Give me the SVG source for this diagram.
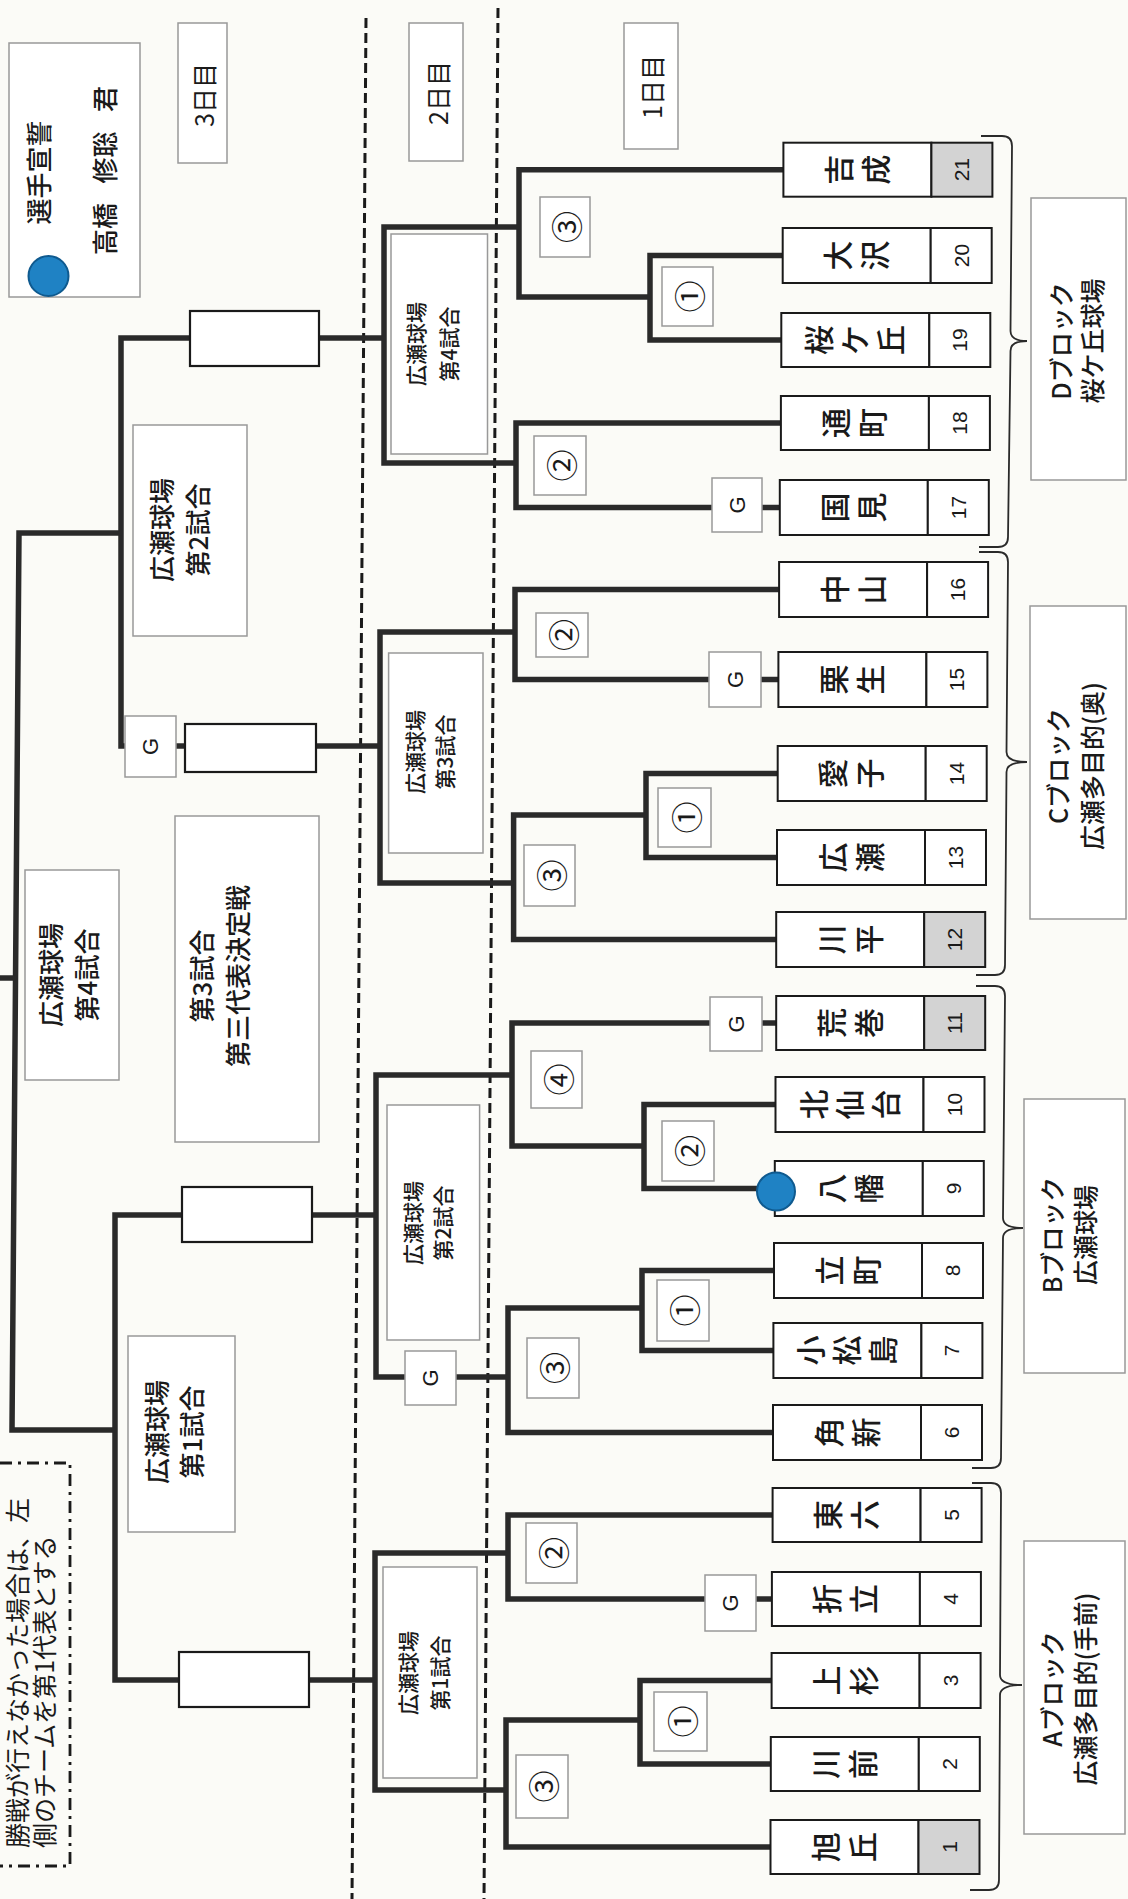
<svg xmlns="http://www.w3.org/2000/svg" width="1128" height="1899" viewBox="0 0 1128 1899">
<style>
.bg{fill:#fbfbf7}
.tb{fill:#fff;stroke:#1a1a1a;stroke-width:2}
.sh{fill:#d3d3d3}
.gb{fill:#fff;stroke:#999;stroke-width:1.5}
.eb{fill:#fff;stroke:#1a1a1a;stroke-width:2.2}
.ln{fill:none;stroke:#2a2a2a;stroke-width:5.5;stroke-linejoin:miter}
.dash{stroke:#1a1a1a;stroke-width:3;stroke-dasharray:10 5}
.brace{fill:none;stroke:#2a2a2a;stroke-width:1.8}
.nm{font-family:"Noto Sans CJK JP","Noto Sans CJK SC",sans-serif;font-size:30px;font-weight:500;text-anchor:middle;dominant-baseline:central;fill:#1a1a1a}
.num{font-family:"Liberation Sans",Arial,sans-serif;font-size:21px;text-anchor:middle;dominant-baseline:central;fill:#1a1a1a}
.cn{font-family:"Noto Sans CJK JP","Noto Sans CJK SC",sans-serif;font-size:32px;text-anchor:middle;dominant-baseline:central;fill:#1a1a1a}
.g{font-family:"Liberation Sans",Arial,sans-serif;font-size:22px;text-anchor:middle;dominant-baseline:central;fill:#1a1a1a}
.l2{font-family:"Noto Sans CJK JP","Noto Sans CJK SC",sans-serif;font-size:21px;font-weight:500;text-anchor:middle;dominant-baseline:central;fill:#1a1a1a}
.l3{font-family:"Noto Sans CJK JP","Noto Sans CJK SC",sans-serif;font-size:26px;font-weight:500;text-anchor:middle;dominant-baseline:central;fill:#1a1a1a}
.lb{font-family:"Noto Sans CJK JP","Noto Sans CJK SC",sans-serif;font-size:25px;font-weight:500;text-anchor:middle;dominant-baseline:central;fill:#1a1a1a}
.dy{font-family:"Noto Sans CJK JP","Noto Sans CJK SC",sans-serif;font-size:25px;text-anchor:middle;dominant-baseline:central;fill:#1a1a1a}
.nt{font-family:"Noto Sans CJK JP","Noto Sans CJK SC",sans-serif;font-size:25px;text-anchor:start;dominant-baseline:central;fill:#1a1a1a}
.blue{fill:#1f82c4;stroke:#0f5a8f;stroke-width:2}
</style>
<rect class="bg" x="0" y="0" width="1128" height="1899"/>

<g id="day-dividers">
<line class="dash" x1="366" y1="18" x2="352" y2="1899"/>
<line class="dash" x1="498" y1="8" x2="484" y2="1899"/>
</g>

<g id="connectors">
<path class="ln" d="M783.4,169.7 H519 V297 H650"/>
<path class="ln" d="M782.7,255.5 H650 V340 H781.3"/>
<path class="ln" d="M780.9,423 H516 V507.5 H712"/>
<path class="ln" d="M762,507.5 H779.8"/>
<path class="ln" d="M779.1,589.5 H515 V679.5 H709"/>
<path class="ln" d="M761,679.5 H778.4"/>
<path class="ln" d="M777.7,773.5 H646 V857.5 H777"/>
<path class="ln" d="M646,815 H513.6 V939.5 H776.2"/>
<path class="ln" d="M710,1023 H512 V1146 H644"/>
<path class="ln" d="M762,1023 H776.2"/>
<path class="ln" d="M775.5,1104.5 H644 V1188.5 H776"/>
<path class="ln" d="M774,1270.5 H642 V1350.5 H773.4"/>
<path class="ln" d="M642,1308 H508 V1432.5 H773"/>
<path class="ln" d="M772.6,1515 H508 V1599 H705"/>
<path class="ln" d="M756,1599 H771.9"/>
<path class="ln" d="M771.6,1680.5 H640 V1764 H770.8"/>
<path class="ln" d="M640,1720 H506 V1847 H770.5"/>
<path class="ln" d="M519,227 H384 V463 H516"/>
<path class="ln" d="M515,632 H380 V883 H513.6"/>
<path class="ln" d="M512,1075 H376 V1377 H405"/>
<path class="ln" d="M456,1377 H508"/>
<path class="ln" d="M508,1553 H375 V1790 H506"/>
<path class="ln" d="M384,338 H319"/>
<path class="ln" d="M380,746 H316"/>
<path class="ln" d="M376,1215 H312"/>
<path class="ln" d="M375,1680 H309"/>
<path class="ln" d="M190,338 H121 V746 H125"/>
<path class="ln" d="M175.5,746 H185"/>
<path class="ln" d="M182,1215 H115 V1680 H179"/>
<path class="ln" d="M121,533 H19 L12,1430 H115"/>
<path class="ln" d="M15.5,978 H0"/>
</g>

<g id="braces">
<path class="brace" d="M981,136 L1002,136 Q1012,136 1012,146 L1010.5,331 Q1010.5,341 1027,341 Q1010.5,341 1010.5,351 L1008,537 Q1008,547 998,547 L979,547"/>
<path class="brace" d="M979,552 L998,552 Q1008,552 1008,562 L1006.5,752 Q1006.5,762 1027,762 Q1006.5,762 1006.5,772 L1005,965 Q1005,975 995,975 L976,975"/>
<path class="brace" d="M976,986 L995,986 Q1005,986 1005,996 L1003,1218 Q1003,1228 1023,1228 Q1003,1228 1003,1238 L1001,1458 Q1001,1468 991,1468 L972,1468"/>
<path class="brace" d="M972,1483 L991,1483 Q1001,1483 1001,1493 L1000,1675 Q1000,1685 1022,1685 Q1000,1685 1000,1695 L999,1880 Q999,1890 989,1890 L970,1890"/>
</g>

<g id="legend">
<rect class="gb" x="9" y="43" width="131" height="254"/>
<circle class="blue" cx="48.5" cy="276" r="20"/>
<text class="l3" transform="translate(37,172.5) rotate(-90)">選手宣誓</text>
<text class="l3" transform="translate(103.5,229) rotate(-90)">高橋</text>
<text class="l3" transform="translate(103.5,157.5) rotate(-90)">修聡</text>
<text class="l3" transform="translate(103.5,99) rotate(-90)">君</text>
</g>

<g id="day3-label"><rect class="gb" x="178" y="23" width="49" height="140"/><text class="dy" transform="translate(203,95) rotate(-90)">3日目</text></g>
<g id="day2-label"><rect class="gb" x="409" y="23" width="54" height="138"/><text class="dy" transform="translate(437,93) rotate(-90)">2日目</text></g>
<g id="day1-label"><rect class="gb" x="624" y="23" width="54" height="126"/><text class="dy" transform="translate(651,87) rotate(-90)">1日目</text></g>

<g id="note">
<path d="M0,1463 H70 V1866 H0" fill="none" stroke="#1a1a1a" stroke-width="2.8" stroke-dasharray="12 6 3 6"/>
<text class="nt" transform="translate(15.5,1848) rotate(-90)">勝戦が行えなかった場合は、左</text>
<text class="nt" transform="translate(43,1848) rotate(-90)">側のチームを第1代表とする</text>
</g>

<g id="d3-match2"><rect class="gb" x="133" y="425" width="114" height="211"/><text class="l3" transform="translate(160,530) rotate(-90)">広瀬球場</text><text class="l3" transform="translate(196,530) rotate(-90)">第2試合</text></g>
<g id="d3-match4"><rect class="gb" x="25" y="870" width="94" height="210"/><text class="l3" transform="translate(49.5,975) rotate(-90)">広瀬球場</text><text class="l3" transform="translate(85.5,975) rotate(-90)">第4試合</text></g>
<g id="d3-match3"><rect class="gb" x="175" y="816" width="144" height="326"/><text class="l3" transform="translate(200.5,976) rotate(-90)">第3試合</text><text class="l3" transform="translate(236.5,976) rotate(-90)">第三代表決定戦</text></g>
<g id="d3-match1"><rect class="gb" x="128" y="1336" width="107" height="196"/><text class="l3" transform="translate(155,1432) rotate(-90)">広瀬球場</text><text class="l3" transform="translate(190.6,1432) rotate(-90)">第1試合</text></g>

<g id="winner-1"><rect class="eb" x="190" y="311" width="129" height="55"/></g>
<g id="winner-2"><rect class="eb" x="185" y="724" width="131" height="48"/></g>
<g id="winner-3"><rect class="eb" x="182" y="1187" width="130" height="55"/></g>
<g id="winner-4"><rect class="eb" x="179" y="1652" width="130" height="55"/></g>
<g id="d3-G"><rect class="gb" x="125" y="716" width="51" height="61"/><text class="g" transform="translate(150.5,746.5) rotate(-90)">G</text></g>

<g id="d2-match4"><rect class="gb" x="391" y="234" width="96.5" height="220"/><text class="l2" transform="translate(415,344) rotate(-90)">広瀬球場</text><text class="l2" transform="translate(447.5,344) rotate(-90)">第4試合</text></g>
<g id="d2-match3"><rect class="gb" x="388.6" y="653" width="94.4" height="200"/><text class="l2" transform="translate(413.6,752) rotate(-90)">広瀬球場</text><text class="l2" transform="translate(444,752) rotate(-90)">第3試合</text></g>
<g id="d2-match2"><rect class="gb" x="387" y="1105" width="92.6" height="235"/><text class="l2" transform="translate(412,1223) rotate(-90)">広瀬球場</text><text class="l2" transform="translate(442,1223) rotate(-90)">第2試合</text></g>
<g id="d2-match1"><rect class="gb" x="383" y="1567" width="94" height="211"/><text class="l2" transform="translate(407,1673) rotate(-90)">広瀬球場</text><text class="l2" transform="translate(439,1673) rotate(-90)">第1試合</text></g>
<g id="d2-G"><rect class="gb" x="405" y="1351" width="51" height="54"/><text class="g" transform="translate(430.5,1378) rotate(-90)">G</text></g>

<g id="D-m3"><rect class="gb" x="540" y="197" width="50" height="60"/><text class="cn" transform="translate(565,227) rotate(-90)">③</text></g>
<g id="D-m1"><rect class="gb" x="662" y="267" width="51" height="59"/><text class="cn" transform="translate(687.5,296.5) rotate(-90)">①</text></g>
<g id="D-m2"><rect class="gb" x="534" y="436" width="52" height="59"/><text class="cn" transform="translate(560,465.5) rotate(-90)">②</text></g>
<g id="D-G"><rect class="gb" x="712" y="478" width="50" height="54"/><text class="g" transform="translate(737,505) rotate(-90)">G</text></g>
<g id="C-m2"><rect class="gb" x="536" y="613" width="52" height="44"/><text class="cn" transform="translate(562,635) rotate(-90)">②</text></g>
<g id="C-G"><rect class="gb" x="709" y="652" width="52" height="55"/><text class="g" transform="translate(735,679.5) rotate(-90)">G</text></g>
<g id="C-m1"><rect class="gb" x="658" y="788" width="53" height="59"/><text class="cn" transform="translate(684.5,817.5) rotate(-90)">①</text></g>
<g id="C-m3"><rect class="gb" x="524" y="845" width="51" height="61"/><text class="cn" transform="translate(549.5,875.5) rotate(-90)">③</text></g>
<g id="B-G"><rect class="gb" x="710" y="997" width="52" height="54"/><text class="g" transform="translate(736,1024) rotate(-90)">G</text></g>
<g id="B-m4"><rect class="gb" x="531" y="1051" width="51" height="57"/><text class="cn" transform="translate(556.5,1079.5) rotate(-90)">④</text></g>
<g id="B-m2"><rect class="gb" x="662" y="1121" width="52" height="60"/><text class="cn" transform="translate(688,1151) rotate(-90)">②</text></g>
<g id="B-m1"><rect class="gb" x="657" y="1280" width="52" height="61"/><text class="cn" transform="translate(683,1310.5) rotate(-90)">①</text></g>
<g id="B-m3"><rect class="gb" x="527" y="1338" width="52" height="60"/><text class="cn" transform="translate(553,1368) rotate(-90)">③</text></g>
<g id="A-m2"><rect class="gb" x="526" y="1523" width="51" height="60"/><text class="cn" transform="translate(551.5,1553) rotate(-90)">②</text></g>
<g id="A-G"><rect class="gb" x="705" y="1575" width="51" height="56"/><text class="g" transform="translate(730.5,1603) rotate(-90)">G</text></g>
<g id="A-m1"><rect class="gb" x="654" y="1692" width="53" height="59"/><text class="cn" transform="translate(680.5,1721.5) rotate(-90)">①</text></g>
<g id="A-m3"><rect class="gb" x="516" y="1755" width="52" height="63"/><text class="cn" transform="translate(542,1786.5) rotate(-90)">③</text></g>

<g id="team-21"><rect class="tb" x="783.4" y="142.7" width="148" height="54"/><rect class="tb sh" x="931.4" y="142.7" width="61" height="54"/><text class="nm" transform="translate(836.9,169.7) rotate(-90)">吉</text><text class="nm" transform="translate(873.9,169.7) rotate(-90)">成</text><text class="num" transform="translate(961.9,169.7) rotate(-90)">21</text></g>
<g id="team-20"><rect class="tb" x="782.7" y="228" width="148" height="55"/><rect class="tb" x="930.7" y="228" width="61" height="55"/><text class="nm" transform="translate(836.2,255.5) rotate(-90)">大</text><text class="nm" transform="translate(873.2,255.5) rotate(-90)">沢</text><text class="num" transform="translate(961.2,255.5) rotate(-90)">20</text></g>
<g id="team-19"><rect class="tb" x="781.3" y="313" width="148" height="54"/><rect class="tb" x="929.3" y="313" width="61" height="54"/><text class="nm" transform="translate(817.3,340) rotate(-90)">桜</text><text class="nm" transform="translate(853.3,340) rotate(-90)">ケ</text><text class="nm" transform="translate(889.3,340) rotate(-90)">丘</text><text class="num" transform="translate(959.8,340) rotate(-90)">19</text></g>
<g id="team-18"><rect class="tb" x="780.9" y="396" width="148" height="54"/><rect class="tb" x="928.9" y="396" width="61" height="54"/><text class="nm" transform="translate(834.4,423) rotate(-90)">通</text><text class="nm" transform="translate(871.4,423) rotate(-90)">町</text><text class="num" transform="translate(959.4,423) rotate(-90)">18</text></g>
<g id="team-17"><rect class="tb" x="779.8" y="480" width="148" height="55"/><rect class="tb" x="927.8" y="480" width="61" height="55"/><text class="nm" transform="translate(833.3,507.5) rotate(-90)">国</text><text class="nm" transform="translate(870.3,507.5) rotate(-90)">見</text><text class="num" transform="translate(958.3,507.5) rotate(-90)">17</text></g>
<g id="team-16"><rect class="tb" x="779.1" y="562" width="148" height="55"/><rect class="tb" x="927.1" y="562" width="61" height="55"/><text class="nm" transform="translate(832.6,589.5) rotate(-90)">中</text><text class="nm" transform="translate(869.6,589.5) rotate(-90)">山</text><text class="num" transform="translate(957.6,589.5) rotate(-90)">16</text></g>
<g id="team-15"><rect class="tb" x="778.4" y="652" width="148" height="55"/><rect class="tb" x="926.4" y="652" width="61" height="55"/><text class="nm" transform="translate(831.9,679.5) rotate(-90)">栗</text><text class="nm" transform="translate(868.9,679.5) rotate(-90)">生</text><text class="num" transform="translate(956.9,679.5) rotate(-90)">15</text></g>
<g id="team-14"><rect class="tb" x="777.7" y="746" width="148" height="55"/><rect class="tb" x="925.7" y="746" width="61" height="55"/><text class="nm" transform="translate(831.2,773.5) rotate(-90)">愛</text><text class="nm" transform="translate(868.2,773.5) rotate(-90)">子</text><text class="num" transform="translate(956.2,773.5) rotate(-90)">14</text></g>
<g id="team-13"><rect class="tb" x="777" y="830" width="148" height="55"/><rect class="tb" x="925" y="830" width="61" height="55"/><text class="nm" transform="translate(830.5,857.5) rotate(-90)">広</text><text class="nm" transform="translate(867.5,857.5) rotate(-90)">瀬</text><text class="num" transform="translate(955.5,857.5) rotate(-90)">13</text></g>
<g id="team-12"><rect class="tb" x="776.2" y="912" width="148" height="55"/><rect class="tb sh" x="924.2" y="912" width="61" height="55"/><text class="nm" transform="translate(829.7,939.5) rotate(-90)">川</text><text class="nm" transform="translate(866.7,939.5) rotate(-90)">平</text><text class="num" transform="translate(954.7,939.5) rotate(-90)">12</text></g>
<g id="team-11"><rect class="tb" x="776.2" y="996" width="148" height="54"/><rect class="tb sh" x="924.2" y="996" width="61" height="54"/><text class="nm" transform="translate(829.7,1023) rotate(-90)">荒</text><text class="nm" transform="translate(866.7,1023) rotate(-90)">巻</text><text class="num" transform="translate(954.7,1023) rotate(-90)">11</text></g>
<g id="team-10"><rect class="tb" x="775.5" y="1077" width="148" height="55"/><rect class="tb" x="923.5" y="1077" width="61" height="55"/><text class="nm" transform="translate(811.5,1104.5) rotate(-90)">北</text><text class="nm" transform="translate(847.5,1104.5) rotate(-90)">仙</text><text class="nm" transform="translate(883.5,1104.5) rotate(-90)">台</text><text class="num" transform="translate(954,1104.5) rotate(-90)">10</text></g>
<g id="team-9"><rect class="tb" x="774.8" y="1161" width="148" height="55"/><rect class="tb" x="922.8" y="1161" width="61" height="55"/><text class="nm" transform="translate(830.3,1188.5) rotate(-90)">八</text><text class="nm" transform="translate(867.3,1188.5) rotate(-90)">幡</text><text class="num" transform="translate(953.3,1188.5) rotate(-90)">9</text><circle class="blue" cx="776" cy="1191.5" r="19"/></g>
<g id="team-8"><rect class="tb" x="774" y="1243" width="148" height="55"/><rect class="tb" x="922" y="1243" width="61" height="55"/><text class="nm" transform="translate(827.5,1270.5) rotate(-90)">立</text><text class="nm" transform="translate(864.5,1270.5) rotate(-90)">町</text><text class="num" transform="translate(952.5,1270.5) rotate(-90)">8</text></g>
<g id="team-7"><rect class="tb" x="773.4" y="1323" width="148" height="55"/><rect class="tb" x="921.4" y="1323" width="61" height="55"/><text class="nm" transform="translate(809.4,1350.5) rotate(-90)">小</text><text class="nm" transform="translate(845.4,1350.5) rotate(-90)">松</text><text class="nm" transform="translate(881.4,1350.5) rotate(-90)">島</text><text class="num" transform="translate(951.9,1350.5) rotate(-90)">7</text></g>
<g id="team-6"><rect class="tb" x="773" y="1405" width="148" height="55"/><rect class="tb" x="921" y="1405" width="61" height="55"/><text class="nm" transform="translate(826.5,1432.5) rotate(-90)">角</text><text class="nm" transform="translate(863.5,1432.5) rotate(-90)">新</text><text class="num" transform="translate(951.5,1432.5) rotate(-90)">6</text></g>
<g id="team-5"><rect class="tb" x="772.6" y="1488" width="148" height="54"/><rect class="tb" x="920.6" y="1488" width="61" height="54"/><text class="nm" transform="translate(826.1,1515) rotate(-90)">東</text><text class="nm" transform="translate(863.1,1515) rotate(-90)">六</text><text class="num" transform="translate(951.1,1515) rotate(-90)">5</text></g>
<g id="team-4"><rect class="tb" x="771.9" y="1572" width="148" height="54"/><rect class="tb" x="919.9" y="1572" width="61" height="54"/><text class="nm" transform="translate(825.4,1599) rotate(-90)">折</text><text class="nm" transform="translate(862.4,1599) rotate(-90)">立</text><text class="num" transform="translate(950.4,1599) rotate(-90)">4</text></g>
<g id="team-3"><rect class="tb" x="771.6" y="1653" width="148" height="55"/><rect class="tb" x="919.6" y="1653" width="61" height="55"/><text class="nm" transform="translate(825.1,1680.5) rotate(-90)">上</text><text class="nm" transform="translate(862.1,1680.5) rotate(-90)">杉</text><text class="num" transform="translate(950.1,1680.5) rotate(-90)">3</text></g>
<g id="team-2"><rect class="tb" x="770.8" y="1737" width="148" height="54"/><rect class="tb" x="918.8" y="1737" width="61" height="54"/><text class="nm" transform="translate(824.3,1764) rotate(-90)">川</text><text class="nm" transform="translate(861.3,1764) rotate(-90)">前</text><text class="num" transform="translate(949.3,1764) rotate(-90)">2</text></g>
<g id="team-1"><rect class="tb" x="770.5" y="1820" width="148" height="54"/><rect class="tb sh" x="918.5" y="1820" width="61" height="54"/><text class="nm" transform="translate(824,1847) rotate(-90)">旭</text><text class="nm" transform="translate(861,1847) rotate(-90)">丘</text><text class="num" transform="translate(949,1847) rotate(-90)">1</text></g>

<g id="block-D"><rect class="gb" x="1031" y="198" width="95" height="282"/><text class="lb" transform="translate(1060,341) rotate(-90)">Dブロック</text><text class="lb" transform="translate(1091,341) rotate(-90)">桜ケ丘球場</text></g>
<g id="block-C"><rect class="gb" x="1030" y="606" width="96" height="313"/><text class="lb" transform="translate(1057,766) rotate(-90)">Cブロック</text><text class="lb" transform="translate(1091,766) rotate(-90)">広瀬多目的(奥)</text></g>
<g id="block-B"><rect class="gb" x="1024" y="1099" width="101" height="274"/><text class="lb" transform="translate(1051,1235) rotate(-90)">Bブロック</text><text class="lb" transform="translate(1084,1235) rotate(-90)">広瀬球場</text></g>
<g id="block-A"><rect class="gb" x="1024" y="1541" width="101" height="293"/><text class="lb" transform="translate(1051,1689) rotate(-90)">Aブロック</text><text class="lb" transform="translate(1084,1689) rotate(-90)">広瀬多目的(手前)</text></g>
</svg>
